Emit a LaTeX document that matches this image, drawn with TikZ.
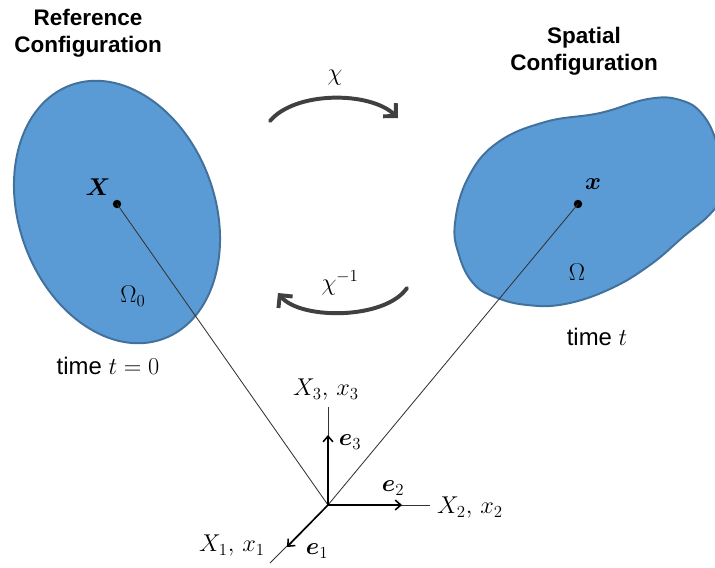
\documentclass[tikz,border=0pt]{standalone}
\usepackage{fontspec}
\setmainfont{Liberation Sans}
\usepackage{bm}
\usetikzlibrary{arrows.meta}

\definecolor{bodyblue}{HTML}{5B9BD5}
\definecolor{bodyedge}{HTML}{41719C}
\definecolor{arcgray}{HTML}{404040}

\begin{document}
\begin{tikzpicture}[x=0.025cm,y=0.025cm,
  body/.style={fill=bodyblue,draw=bodyedge,line width=1.4pt},
  title/.style={font=\fontsize{16}{19}\selectfont\bfseries,align=center},
  label/.style={font=\fontsize{17}{20}\selectfont,inner sep=1pt},
  mapping/.style={draw=arcgray,line width=2.8pt,line cap=round,
                  -{Straight Barb[length=6.5pt,width=13pt]}},
  ray/.style={draw=black!80,line width=0.6pt},
  axis/.style={draw=black!80,line width=0.6pt},
  basis/.style={draw=black,line width=1.1pt,-{Straight Barb[length=4pt,width=7pt]}},
  point/.style={circle,fill=black,inner sep=0pt,minimum size=6pt},
]
\useasboundingbox (0,0) rectangle (715,567);

% === Reference configuration ===
\draw[body,rotate around={20:(117,355)}] (117,355) ellipse (98 and 135);
\node[title] (reftitle) at (88,534) {Reference\\Configuration};
\node[label] (reftime) at (108,201) {time $t=0$};
\node[label] (refdom) at (133,271) {$\Omega_0$};

% === Spatial configuration ===
\begin{scope}
  \clip (0,0) rectangle (715,567);
  \draw[body] plot[smooth cycle,tension=0.7] coordinates {
    (680,467) (703,452) (718,420) (726,380) (712,355) (683,330)
    (650,302) (610,278) (565,263) (527,262) (495,270) (473,284)
    (459,312) (455,344) (468,389) (497,424) (545,445) (600,454)
    (648,468)};
\end{scope}
\node[title] (sptitle) at (584,516) {Spatial\\Configuration};
\node[label] (sptime) at (597,230) {time $t$};
\node[label] (spdom) at (577,295) {$\Omega$};

% === Position vectors ===
\coordinate (O) at (328,62);
\node[point] (P0) at (117,363) {};
\node[point] (P) at (578,363) {};
\node[label] (P0lbl) at (98,380) {$\bm{X}$};
\node[label] (Plbl) at (593,383) {$\bm{x}$};
\draw[ray] (O) -- (P0.center);
\draw[ray] (O) -- (P.center);

% === Mappings ===
\coordinate (fwdS) at (270,446);
\coordinate (fwdE) at (398,449);
\coordinate (invS) at (407,279);
\coordinate (invE) at (278,274);
\draw[mapping] (fwdS) .. controls (295,476) and (370,476) .. (fwdE);
\draw[mapping] (invS) .. controls (385,247) and (300,247) .. (invE);
\node[label] (fwdlbl) at (335,489) {$\chi$};
\node[label] (invlbl) at (340,284) {$\chi^{-1}$};

% === Basis ===
\coordinate (A1) at (270,4);
\coordinate (A2) at (430,62);
\coordinate (A3) at (328,160);
\coordinate (E1) at (287,20);
\coordinate (E2) at (402,62);
\coordinate (E3) at (328,132);
\foreach \a in {A1,A2,A3} \draw[axis] (O) -- (\a);
\foreach \e in {E1,E2,E3} \draw[basis] (O) -- (\e);
\node[label] (A3lbl) at (326,177) {$X_3,\,x_3$};
\node[label] (A2lbl) at (470,59) {$X_2,\,x_2$};
\node[label] (A1lbl) at (232,21) {$X_1,\,x_1$};
\node[label] (E3lbl) at (350,125) {$\bm{e}_3$};
\node[label] (E2lbl) at (393,79) {$\bm{e}_2$};
\node[label] (E1lbl) at (317,16) {$\bm{e}_1$};

\end{tikzpicture}
\end{document}
